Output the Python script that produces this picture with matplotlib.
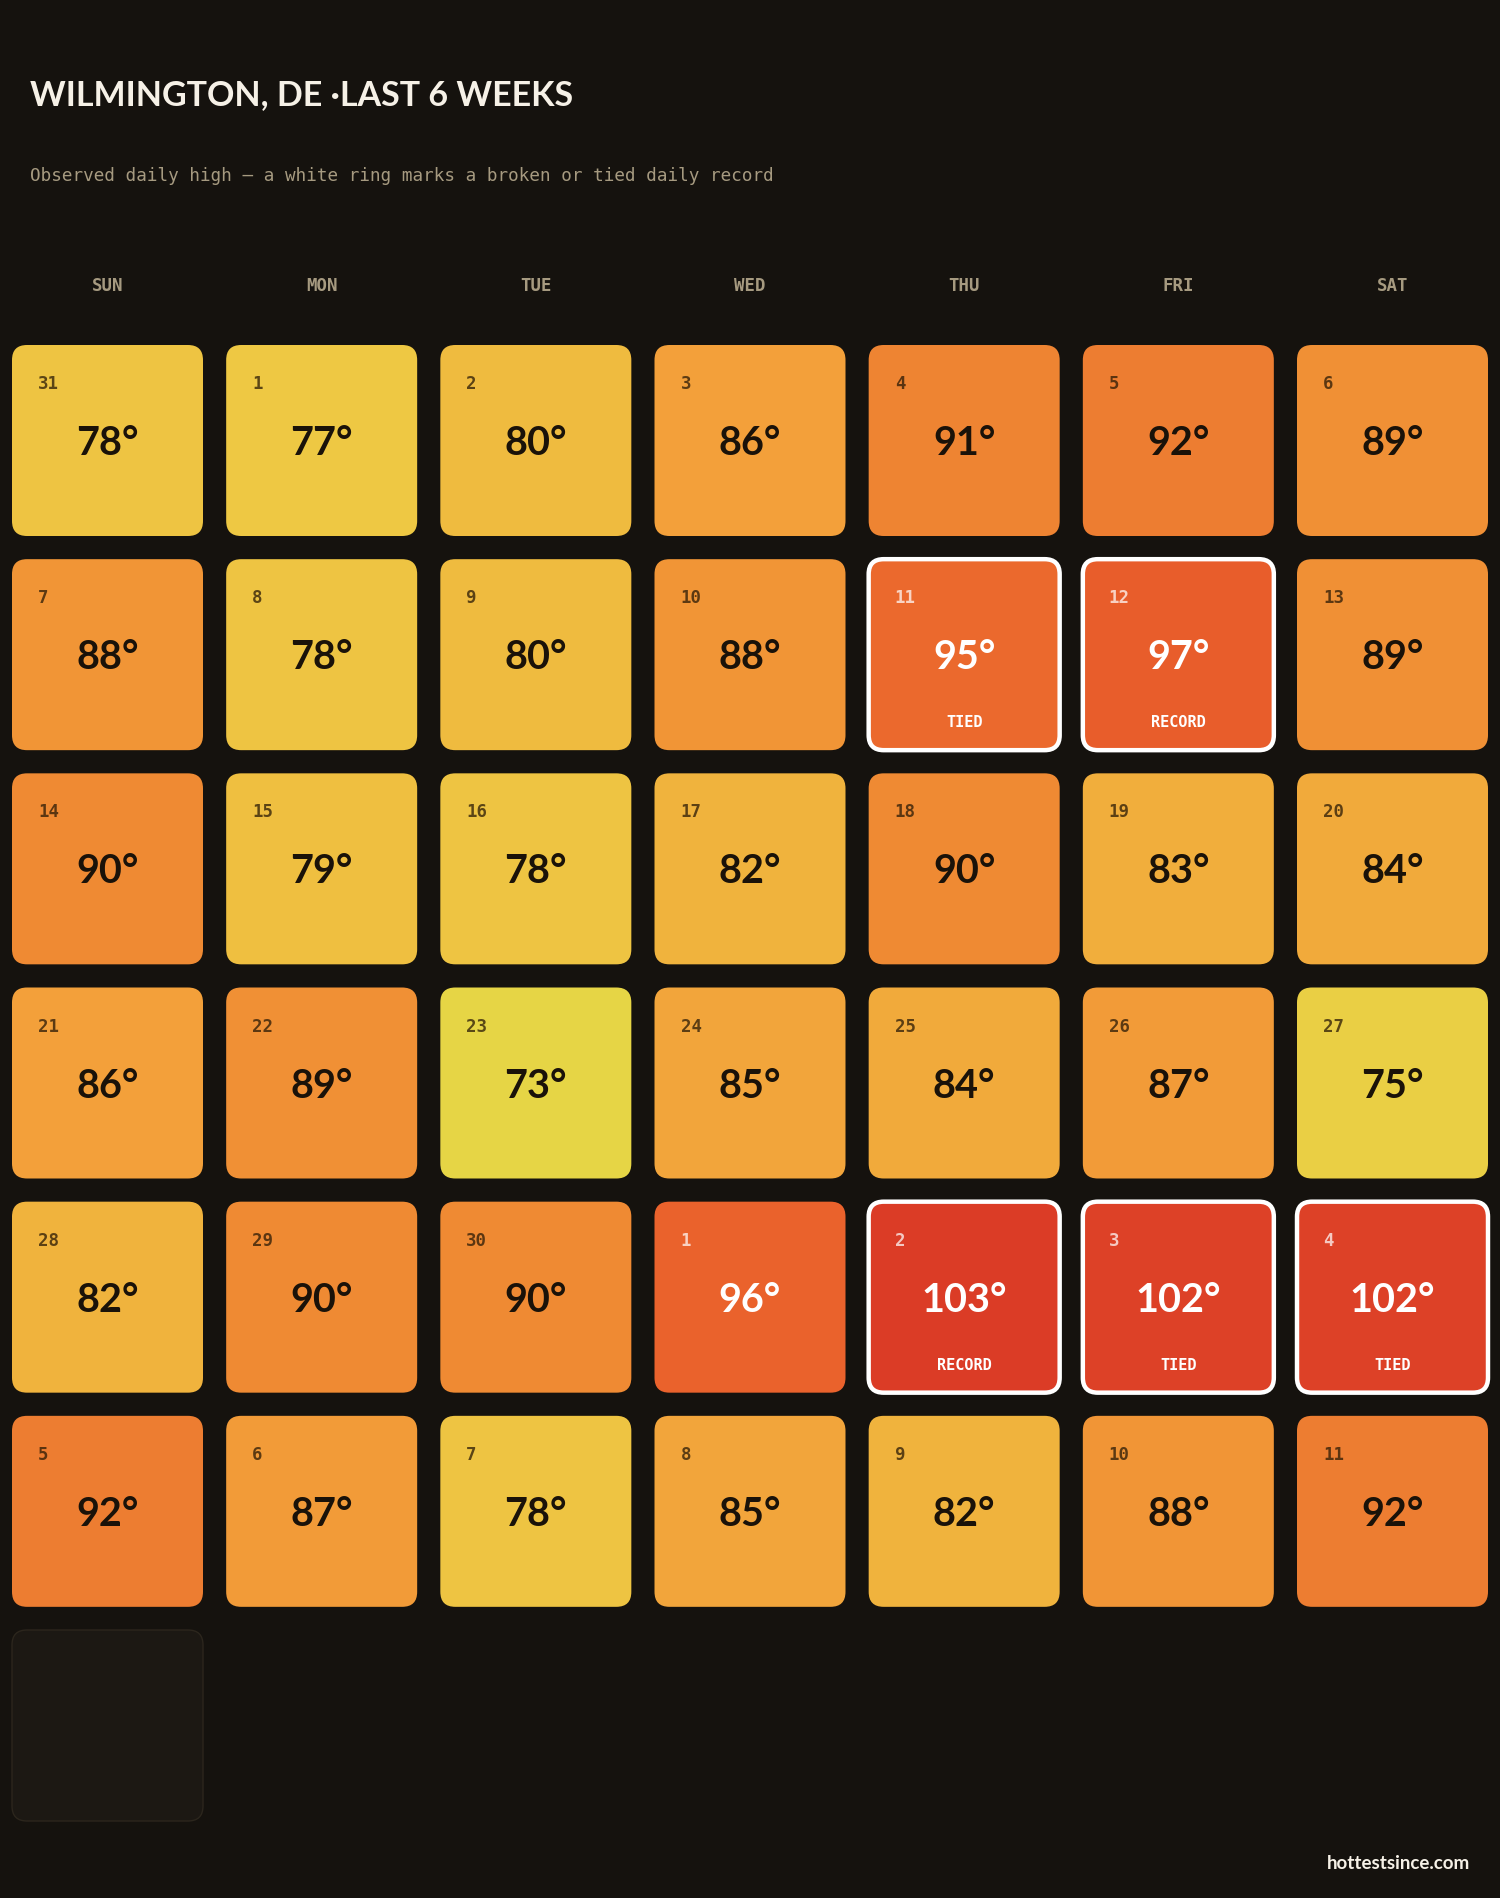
import matplotlib
matplotlib.use("Agg")
import matplotlib.pyplot as plt
from matplotlib.patches import FancyBboxPatch
from matplotlib.colors import LinearSegmentedColormap, Normalize

# ---------------- data ----------------
title = "WILMINGTON, DE ·LAST 6 WEEKS"
subtitle = "Observed daily high — a white ring marks a broken or tied daily record"
weekdays = ["SUN", "MON", "TUE", "WED", "THU", "FRI", "SAT"]

dates = [31, 1, 2, 3, 4, 5, 6,
         7, 8, 9, 10, 11, 12, 13,
         14, 15, 16, 17, 18, 19, 20,
         21, 22, 23, 24, 25, 26, 27,
         28, 29, 30, 1, 2, 3, 4,
         5, 6, 7, 8, 9, 10, 11]
highs = [78, 77, 80, 86, 91, 92, 89,
         88, 78, 80, 88, 95, 97, 89,
         90, 79, 78, 82, 90, 83, 84,
         86, 89, 73, 85, 84, 87, 75,
         82, 90, 90, 96, 103, 102, 102,
         92, 87, 78, 85, 82, 88, 92]
records = ["", "", "", "", "", "", "",
           "", "", "", "", "TIED", "RECORD", "",
           "", "", "", "", "", "", "",
           "", "", "", "", "", "", "",
           "", "", "", "", "RECORD", "TIED", "TIED",
           "", "", "", "", "", "", ""]
n_placeholders = 1
footer = "hottestsince.com"

# ---------------- style ----------------
BG = "#15120e"
anchor_t = [73, 77, 80, 84, 86, 90, 92, 96, 103]
anchor_c = ["#e6d545", "#eec843", "#efbb3f", "#f1aa3b", "#f3a03a",
            "#ef8a33", "#ed7d31", "#ea622c", "#db3c26"]
tmin, tmax = anchor_t[0], anchor_t[-1]
cmap = LinearSegmentedColormap.from_list(
    "heat", [((t - tmin) / (tmax - tmin), c) for t, c in zip(anchor_t, anchor_c)])
norm = Normalize(tmin, tmax)

W, H = 1500, 1899
fig = plt.figure(figsize=(15, 18.99), dpi=100, facecolor=BG)
ax = fig.add_axes([0, 0, 1, 1])
ax.set_xlim(0, W)
ax.set_ylim(H, 0)
ax.axis("off")
ax.set_facecolor(BG)

SANS = ["Lato", "DejaVu Sans"]
MONO = ["DejaVu Sans Mono"]

left, top = 12, 346
cell = 191
pitch = (W - 2 * left - cell) / 6.0

ax.text(30, 105, title, color="#f6f1e7", fontsize=24.5, fontweight="bold",
        family=SANS, ha="left", va="baseline")
ax.text(30, 176, subtitle, color="#a69a80", fontsize=12.7, family=MONO,
        ha="left", va="center")

for i, d in enumerate(weekdays):
    ax.text(left + i * pitch + cell / 2, 286, d, color="#a69a80", fontsize=12.5,
            fontweight="bold", family=MONO, ha="center", va="center")

for k, (d, t, rec) in enumerate(zip(dates, highs, records)):
    r, c = divmod(k, 7)
    x0 = left + c * pitch
    y0 = top + r * pitch
    hot = t >= 95
    patch = FancyBboxPatch((x0, y0), cell, cell,
                           boxstyle="round,pad=0,rounding_size=15",
                           facecolor=cmap(norm(t)),
                           edgecolor="white" if rec else "none",
                           linewidth=3.2 if rec else 0, zorder=2)
    ax.add_patch(patch)
    if hot:
        dcol, dalpha, tcol = "white", 0.72, "white"
    else:
        dcol, dalpha, tcol = "#2a1a06", 0.75, "#1a1209"
    ax.text(x0 + 26, y0 + 43, str(d), color=dcol, alpha=dalpha, fontsize=12.5,
            fontweight="bold", family=MONO, ha="left", va="baseline", zorder=3)
    ax.text(x0 + cell / 2, y0 + 109, f"{t}°", color=tcol, fontsize=28.5,
            fontweight="bold", family=SANS, ha="center", va="baseline", zorder=3)
    if rec:
        ax.text(x0 + cell / 2, y0 + 167, rec, color="white", fontsize=11,
                fontweight="bold", family=MONO, ha="center", va="baseline", zorder=3)

for j in range(n_placeholders):
    k = len(highs) + j
    r, c = divmod(k, 7)
    x0 = left + c * pitch
    y0 = top + r * pitch
    ax.add_patch(FancyBboxPatch((x0, y0), cell, cell,
                                boxstyle="round,pad=0,rounding_size=15",
                                facecolor="#1c1813", edgecolor="#2c261d",
                                linewidth=1, zorder=2))

ax.text(1470, 1864, footer, color="#f6f1e7", fontsize=13.5, fontweight="bold",
        family=SANS, ha="right", va="center")

fig.savefig("out.png", dpi=100, facecolor=BG)
